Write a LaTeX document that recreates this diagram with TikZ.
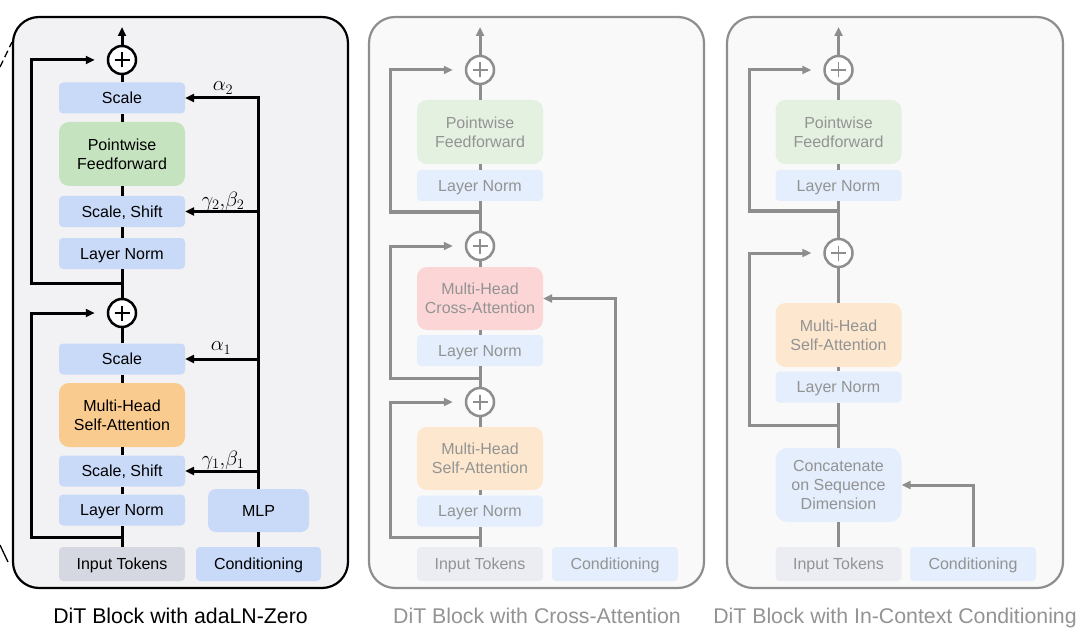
\documentclass[tikz,border=0pt]{standalone}
\usepackage[no-math]{fontspec}
\setmainfont{Liberation Sans}
\usetikzlibrary{arrows.meta}
\definecolor{cblue}{HTML}{C9DAF8}
\definecolor{cgreen}{HTML}{C6E3C0}
\definecolor{corange}{HTML}{F9CB8F}
\definecolor{cgrey}{HTML}{D5D8E1}
\definecolor{pblue}{HTML}{E4EEFD}
\definecolor{pgreen}{HTML}{E4F1E1}
\definecolor{porange}{HTML}{FDE8CF}
\definecolor{pred}{HTML}{FCD6D6}
\definecolor{pgrey}{HTML}{ECEDF2}
\definecolor{panelA}{HTML}{F2F2F4}
\definecolor{panelB}{HTML}{F9F9F9}
\definecolor{gline}{HTML}{8E8E8E}
\definecolor{gtext}{HTML}{939393}
\tikzset{
  base/.style={inner sep=0pt, align=center, font=\fontsize{16}{19}\selectfont},
  box/.style={base, rounded corners=4pt, minimum width=126pt, minimum height=31pt, text height=11.5pt, text depth=0pt},
  bigbox/.style={base, rounded corners=10pt, minimum width=126pt, minimum height=64pt},
  plus/.style={circle, draw=#1, line width=2.5pt, fill=white, minimum size=28pt, inner sep=0pt,
    path picture={\draw[#1, line width=1.6pt]
      ([xshift=-7.5pt]path picture bounding box.center) -- ([xshift=7.5pt]path picture bounding box.center)
      ([yshift=-7.5pt]path picture bounding box.center) -- ([yshift=7.5pt]path picture bounding box.center);}},
  ln/.style={line width=3pt, draw=black},
  arr/.style={ln, -{Triangle[length=9pt,width=8pt]}},
  gln/.style={line width=3pt, draw=gline},
  garr/.style={gln, -{Triangle[length=9pt,width=8pt]}},
  panel/.style={line width=2.2pt, rounded corners=26pt},
  mlab/.style={inner sep=0pt, font=\fontsize{20}{24}\selectfont},
  captxt/.style={inner sep=0pt, anchor=base, font=\fontsize{21.3}{25}\selectfont},
}
\begin{document}
\begin{tikzpicture}[x=1pt,y=-1pt]
\useasboundingbox (0,0) rectangle (1081,639);

% ---------------- left cut marks
\coordinate (m1) at (0,67); \coordinate (m2) at (12,42);
\coordinate (m3) at (0,545); \coordinate (m4) at (8,562);
\draw[line width=1.3pt, dash pattern=on 7pt off 4pt] (m1) -- (m2);
\draw[line width=1.3pt] (m3) -- (m4);

% ================= Panel 1: adaLN-Zero
\draw[panel, draw=black, fill=panelA] (13,17) rectangle (348,588);
\node[plus=black] (a-p2) at (122,60) {};
\node[box, fill=cblue] (a-s2) at (122,98) {Scale};
\node[bigbox, fill=cgreen] (a-ff) at (122,154) {Pointwise\\Feedforward};
\node[box, fill=cblue] (a-ss2) at (122,211.5) {Scale, Shift};
\node[box, fill=cblue] (a-ln2) at (122,253.5) {Layer Norm};
\node[plus=black] (a-p1) at (122,313) {};
\node[box, fill=cblue] (a-s1) at (122,359) {Scale};
\node[bigbox, fill=corange] (a-att) at (122,415) {Multi-Head\\Self-Attention};
\node[box, fill=cblue] (a-ss1) at (122,471) {Scale, Shift};
\node[box, fill=cblue] (a-ln1) at (122,510) {Layer Norm};
\node[box, fill=cgrey, minimum height=34pt] (a-in) at (122,564) {Input Tokens};
\node[box, fill=cblue, minimum width=125pt, minimum height=34pt] (a-cond) at (258.5,564) {Conditioning};
\node[box, fill=cblue, minimum width=101pt, minimum height=43pt, rounded corners=8pt] (a-mlp) at (258.5,510.5) {MLP};
\coordinate (a-out) at (122,27);
\coordinate (a-j1) at (122,537); \coordinate (a-k1) at (31,537);
\coordinate (a-j2) at (122,283); \coordinate (a-k2) at (31,283);
\coordinate (a-r1) at (258.5,98);
\coordinate (a-r2) at (258.5,211.5);
\coordinate (a-r3) at (258.5,359);
\coordinate (a-r4) at (258.5,471);

\draw[ln] (a-in) -- (a-ln1) -- (a-ss1) -- (a-att) -- (a-s1) -- (a-p1) -- (a-ln2) -- (a-ss2) -- (a-ff) -- (a-s2) -- (a-p2);
\draw[arr] (a-p2) -- (a-out);
\draw[arr, shorten >=12pt] (a-j1) -- (a-k1) |- (a-p1);
\draw[arr, shorten >=12pt] (a-j2) -- (a-k2) |- (a-p2);
\draw[ln] (a-cond) -- (a-mlp);
\draw[arr] (a-mlp) -- (a-r1) -- (a-s2);
\draw[arr] (a-r2) -- (a-ss2);
\draw[arr] (a-r3) -- (a-s1);
\draw[arr] (a-r4) -- (a-ss1);
\node[mlab] (a-la2) at (223,88) {$\alpha_2$};
\node[mlab] (a-lg2) at (223,201) {$\gamma_2,\!\beta_2$};
\node[mlab] (a-la1) at (221,348) {$\alpha_1$};
\node[mlab] (a-lg1) at (223,460) {$\gamma_1,\!\beta_1$};
\node[captxt] (a-cap) at (180.5,623) {DiT Block with adaLN-Zero};

% ================= Panel 2: Cross-Attention
\begin{scope}[text=gtext]
\draw[panel, draw=gline, fill=panelB] (369,17) rectangle (704,588);
\node[plus=gline] (b-p3) at (480,70) {};
\node[bigbox, fill=pgreen] (b-ff) at (480,132) {Pointwise\\Feedforward};
\node[box, fill=pblue] (b-ln3) at (480,185.5) {Layer Norm};
\node[plus=gline] (b-p2) at (480,246) {};
\node[bigbox, fill=pred, minimum height=63pt] (b-ca) at (480,298.5) {Multi-Head\\Cross-Attention};
\node[box, fill=pblue] (b-ln2) at (480,350.5) {Layer Norm};
\node[plus=gline] (b-p1) at (480,402) {};
\node[bigbox, fill=porange, minimum height=63pt] (b-sa) at (480,458.5) {Multi-Head\\Self-Attention};
\node[box, fill=pblue] (b-ln1) at (480,511) {Layer Norm};
\node[box, fill=pgrey, minimum height=34pt] (b-in) at (480,564) {Input Tokens};
\node[box, fill=pblue, minimum height=34pt] (b-cond) at (615,564) {Conditioning};
\coordinate (b-out) at (480,27);
\coordinate (b-j1) at (480,537); \coordinate (b-k1) at (390,537);
\coordinate (b-j2) at (480,378); \coordinate (b-k2) at (390,378);
\coordinate (b-j3) at (480,212); \coordinate (b-k3) at (390,212);
\coordinate (b-c1) at (615,298.5);
\draw[gln] (b-in) -- (b-ln1) -- (b-sa) -- (b-p1) -- (b-ln2) -- (b-ca) -- (b-p2) -- (b-ln3) -- (b-ff) -- (b-p3);
\draw[garr] (b-p3) -- (b-out);
\draw[garr, shorten >=12pt] (b-j1) -- (b-k1) |- (b-p1);
\draw[garr, shorten >=12pt] (b-j2) -- (b-k2) |- (b-p2);
\draw[garr, shorten >=12pt] (b-j3) -- (b-k3) |- (b-p3);
\draw[garr] (b-cond) -- (b-c1) -- (b-ca);
\node[captxt] (b-cap) at (537,623) {DiT Block with Cross-Attention};
\end{scope}

% ================= Panel 3: In-Context Conditioning
\begin{scope}[text=gtext]
\draw[panel, draw=gline, fill=panelB] (727,17) rectangle (1063,588);
\node[plus=gline] (c-p2) at (838.5,70) {};
\node[bigbox, fill=pgreen] (c-ff) at (838.5,132) {Pointwise\\Feedforward};
\node[box, fill=pblue] (c-ln2) at (838.5,185.5) {Layer Norm};
\node[plus=gline] (c-p1) at (838.5,253) {};
\node[bigbox, fill=porange] (c-sa) at (838.5,335) {Multi-Head\\Self-Attention};
\node[box, fill=pblue] (c-ln1) at (838.5,387) {Layer Norm};
\node[bigbox, fill=pblue, minimum height=74pt, rounded corners=12pt] (c-cat) at (838.5,485) {Concatenate\\on Sequence\\Dimension};
\node[box, fill=pgrey, minimum height=34pt] (c-in) at (838.5,564) {Input Tokens};
\node[box, fill=pblue, minimum height=34pt] (c-cond) at (973,564) {Conditioning};
\coordinate (c-out) at (838.5,27);
\coordinate (c-j1) at (838.5,425); \coordinate (c-k1) at (749,425);
\coordinate (c-j2) at (838.5,211); \coordinate (c-k2) at (749,211);
\coordinate (c-c1) at (973,485);
\draw[gln] (c-in) -- (c-cat) -- (c-ln1) -- (c-sa) -- (c-p1) -- (c-ln2) -- (c-ff) -- (c-p2);
\draw[garr] (c-p2) -- (c-out);
\draw[garr, shorten >=12pt] (c-j1) -- (c-k1) |- (c-p1);
\draw[garr, shorten >=12pt] (c-j2) -- (c-k2) |- (c-p2);
\draw[garr] (c-cond) -- (c-c1) -- (c-cat);
\node[captxt] (c-cap) at (895,623) {DiT Block with In-Context Conditioning};
\end{scope}
\end{tikzpicture}
\end{document}
